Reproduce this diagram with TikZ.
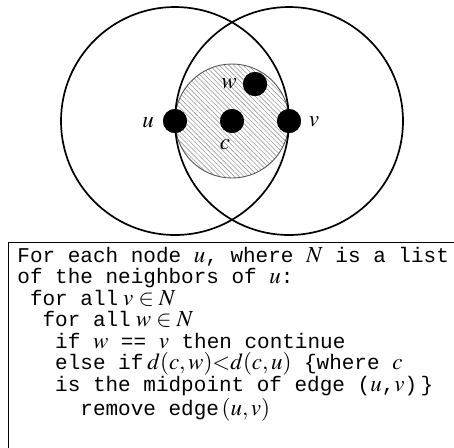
\documentclass[tikz,border=0pt]{standalone}
\usepackage{mathptmx}
\usepackage[no-math]{fontspec}
\setmainfont{Liberation Serif}
\setmonofont{Liberation Mono}
\DeclareMathSizes{10.5}{11.5}{8}{6}
\usetikzlibrary{positioning,patterns.meta}
\definecolor{cEdge}{HTML}{000000}
\definecolor{cHatch}{HTML}{9A9A9A}
\definecolor{cRim}{HTML}{555555}
\newcommand{\ind}[1]{\hspace*{#1\dimexpr0.6em\relax}}
\tikzset{
  vert/.style={circle, fill=black, inner sep=0pt, minimum size=12pt},
  vlabel/.style={inner sep=0pt, font=\fontsize{10.5pt}{12pt}\selectfont},
  reachring/.style={draw=cEdge, line width=0.85pt},
  middisc/.style={draw=cRim, line width=0.45pt,
    pattern={Lines[angle=-45, distance=1.7pt, line width=0.3pt]}, pattern color=cHatch},
  algbox/.style={draw, line width=0.7pt, anchor=north west, inner sep=0pt,
    minimum width=250pt, minimum height=120pt},
  algtext/.style={anchor=base west, inner sep=0pt, align=left,
    font=\ttfamily\fontsize{10.5pt}{10.75pt}\selectfont},
}

\begin{document}
\begin{tikzpicture}[x=0.5pt, y=-0.5pt]
    \clip (0,0) rectangle (454,447);
    \def\R{57pt}
    % midpoint disc first, the ranges over it
    \node[vert] (u) at (175,121) {};
    \node[vert] (v) at (289,121) {};
    \node[vert] (c) at (232,121) {};
    \node[vert] (w) at (255,84)  {};
    \path[middisc] (c) circle (28.5pt);
    \draw[reachring] (u) circle (\R);
    \draw[reachring] (v) circle (\R);
    \node[vert] at (u) {};
    \node[vert] at (v) {};
    \node[vert] at (c) {};
    \node[vert] at (w) {};
    \node[vlabel] (lu) at (148,123) {$u$};
    \node[vlabel] (lv) at (314,122) {$v$};
    \node[vlabel] (lw) at (229,84)  {$w$};
    \node[vlabel] (lc) at (225,145) {$c$};
    % the algorithm (base is the last line)
    \node[algbox] (frame) at (8,242) {};
    \node[algtext] (alg) at (17,415) {%
      For each node $u$, where $N$ is a list\\
      of the neighbors of $u$:\\
      \ind{1}for all\hspace{2.5pt}$v \in N$\\
      \ind{2}for all\hspace{2.5pt}$w \in N$\\
      \ind{3}if $w$ == $v$ then continue\\
      \ind{3}else if\hspace{2pt}$d(c,w){<}d(c,u)$ \{where $c$\\
      \ind{3}is the midpoint of edge ($u$,$v$)\,\}\\
      \ind{5}remove edge$\,(u,v)$};
\end{tikzpicture}
\end{document}
